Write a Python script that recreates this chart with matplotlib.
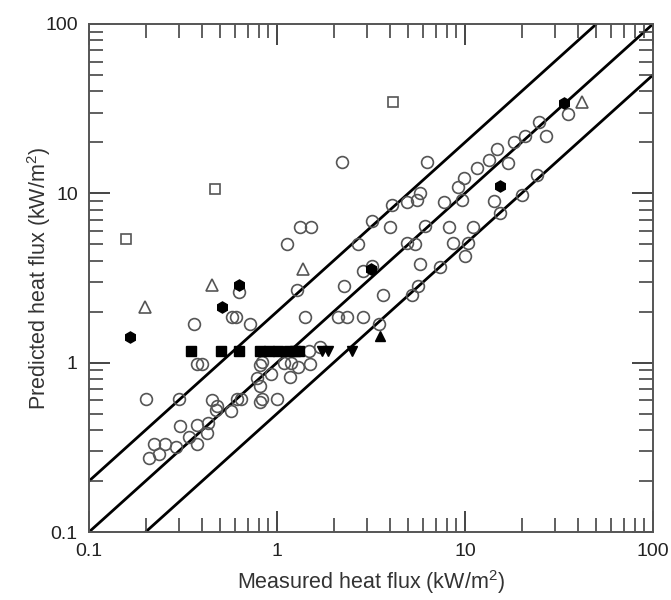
import numpy as np
import matplotlib
matplotlib.use("Agg")
import matplotlib.pyplot as plt
from matplotlib.ticker import LogLocator, FuncFormatter, NullFormatter

plt.rcParams['font.family'] = ['Liberation Sans', 'DejaVu Sans']
plt.rcParams['mathtext.fontset'] = 'custom'
plt.rcParams['mathtext.rm'] = 'Liberation Sans'
plt.rcParams['mathtext.it'] = 'Liberation Sans:italic'

# measured / predicted heat flux (kW/m2)
circ_meas = [2.22, 6.28, 14.8, 18.2, 20.8, 27.0, 24.8, 35.3, 13.4, 11.6, 16.9, 9.88,
             9.19, 14.3, 15.3, 24.2, 20.1, 5.77, 5.56, 4.91, 4.09, 7.73, 9.64, 3.20,
             3.99, 6.12, 8.22, 11.0, 2.70, 4.91, 5.42, 8.63, 10.4, 10.0, 3.20, 2.86,
             5.77, 7.36, 2.27, 5.62, 5.22, 3.66, 2.11, 2.36, 2.86, 1.41, 3.49, 1.32,
             1.52, 1.13, 0.628, 1.28, 0.577, 0.605, 0.718, 0.362, 1.48, 1.69, 0.375,
             0.399, 0.832, 0.812, 1.09, 1.19, 1.29, 1.50, 1.17, 0.929, 0.783, 0.812,
             0.201, 0.301, 0.451, 0.480, 0.474, 0.569, 0.612, 0.644, 0.832, 0.812,
             1.0, 0.305, 0.375, 0.430, 0.425, 0.340, 0.375, 0.222, 0.254, 0.290,
             0.236, 0.209]
circ_pred = [15.3, 15.3, 18.3, 20.1, 21.8, 21.8, 26.4, 29.4, 15.7, 14.1, 15.1, 12.3,
             10.9, 9.01, 7.66, 12.8, 9.77, 10.0, 9.12, 8.89, 8.53, 8.89, 9.12, 6.86,
             6.32, 6.41, 6.32, 6.32, 5.02, 5.08, 5.02, 5.08, 5.08, 4.26, 3.72, 3.48,
             3.82, 3.67, 2.84, 2.84, 2.51, 2.51, 1.86, 1.86, 1.86, 1.86, 1.69, 6.32,
             6.32, 5.02, 2.61, 2.69, 1.86, 1.86, 1.69, 1.69, 1.17, 1.24, 0.981,
             0.981, 1.01, 0.968, 0.995, 0.995, 0.942, 0.981, 0.822, 0.857, 0.811, 0.728,
             0.609, 0.609, 0.601, 0.555, 0.525, 0.518, 0.609, 0.609, 0.609, 0.585,
             0.609, 0.423, 0.428, 0.439, 0.384, 0.364, 0.331, 0.331, 0.331, 0.317,
             0.289, 0.273]

osq_meas = [0.157, 0.468, 4.14]
osq_pred = [5.37, 10.6, 34.6]

otri_meas = [0.199, 0.451, 1.37, 41.9]
otri_pred = [2.13, 2.87, 3.57, 34.6]

hex_meas = [0.165, 0.509, 0.628, 3.16, 15.3, 33.6]
hex_pred = [1.42, 2.13, 2.87, 3.57, 11.0, 34.1]

fsq_meas = [0.349, 0.504, 0.628, 0.812, 0.906, 1.01, 1.16, 1.25, 1.31]
fsq_pred = [1.18] * 9

dtri_meas = [1.73, 1.87, 2.51]
dtri_pred = [1.18, 1.18, 1.18]

utri_meas = [3.53]
utri_pred = [1.43]

ratios = [2.0, 1.0, 0.5]

fig = plt.figure(figsize=(6.71, 6.0), dpi=100)
ax = fig.add_axes([0.1326, 0.1133, 0.8405, 0.8467])

xl = np.array([0.1, 100])
for r in ratios:
    ax.plot(xl, r * xl, color='black', lw=2.0, zorder=1)

grey = '#555555'
ax.plot(circ_meas, circ_pred, 'o', ms=8.5, mfc='none', mec=grey, mew=1.2, zorder=3)
ax.plot(osq_meas, osq_pred, 's', ms=7, mfc='none', mec=grey, mew=1.2, zorder=3)
ax.plot(otri_meas, otri_pred, '^', ms=8, mfc='none', mec=grey, mew=1.2, zorder=3)
ax.plot(hex_meas, hex_pred, 'h', ms=8, color='black', zorder=4)
ax.plot(fsq_meas, fsq_pred, 's', ms=6.5, color='black', zorder=4)
ax.plot(dtri_meas, dtri_pred, 'v', ms=7, color='black', zorder=4)
ax.plot(utri_meas, utri_pred, '^', ms=7, color='black', zorder=4)

ax.set_xscale('log')
ax.set_yscale('log')
ax.set_xlim(0.1, 100)
ax.set_ylim(0.1, 100)

fmt = FuncFormatter(lambda v, p: '%g' % v)
for axis in (ax.xaxis, ax.yaxis):
    axis.set_major_locator(LogLocator(base=10, numticks=10))
    axis.set_minor_locator(LogLocator(base=10, subs=np.arange(2, 10), numticks=10))
    axis.set_major_formatter(fmt)
    axis.set_minor_formatter(NullFormatter())

ax.tick_params(which='both', direction='in', top=True, right=True,
               colors='#444444', labelcolor='#222222', labelsize=14)
ax.tick_params(which='major', length=15, width=1.4, pad=8)
ax.tick_params(which='minor', length=10, width=1.2)
for s in ax.spines.values():
    s.set_color('#555555')
    s.set_linewidth(1.4)

ax.set_xlabel(r'Measured heat flux (kW/m$^{2}$)', fontsize=15.5, color='#333333', labelpad=6)
ax.set_ylabel(r'Predicted heat flux (kW/m$^{2}$)', fontsize=15.5, color='#333333')
ax.yaxis.set_label_coords(-0.064, 0.5)

fig.savefig('out.png', dpi=100)
